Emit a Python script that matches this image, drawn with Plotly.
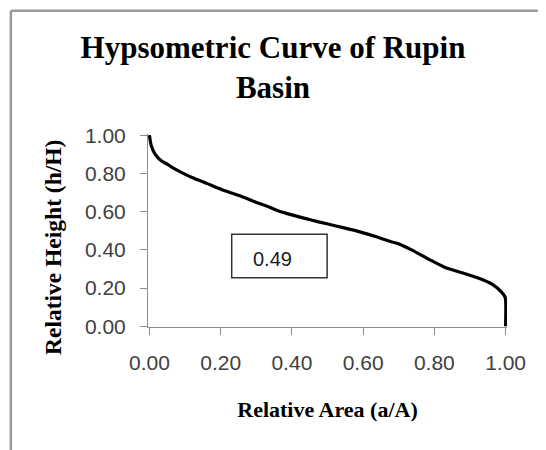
import plotly.graph_objects as go

# Relative area (a/A) and relative height (h/H)
rel_area = [0.000, 0.005, 0.016, 0.034, 0.053, 0.071, 0.095, 0.118, 0.164, 0.210,
            0.257, 0.303, 0.336, 0.359, 0.405, 0.452, 0.498, 0.544, 0.591, 0.637,
            0.670, 0.693, 0.739, 0.786, 0.832, 0.878, 0.925, 0.962, 0.990, 0.999, 1.000]
rel_height = [1.000, 0.946, 0.900, 0.865, 0.845, 0.823, 0.800, 0.780, 0.745, 0.710,
              0.680, 0.646, 0.624, 0.606, 0.580, 0.557, 0.536, 0.516, 0.494, 0.468,
              0.447, 0.435, 0.397, 0.349, 0.306, 0.280, 0.251, 0.220, 0.176, 0.150, 0.000]

tick_vals = [0.0, 0.2, 0.4, 0.6, 0.8, 1.0]
tick_text = ["0.00", "0.20", "0.40", "0.60", "0.80", "1.00"]

hypsometric_integral = "0.49"

title_text = "Hypsometric Curve of Rupin<br>Basin"
x_title = "Relative Area (a/A)"
y_title = "Relative Height (h/H)"

serif = "Liberation Serif, Times New Roman, serif"
sans = "Liberation Sans, Arial, sans-serif"

W, H = 546, 450
L, R, T, B = 140, 47, 126, 131
pw, ph = W - L - R, H - T - B

fig = go.Figure()
fig.add_trace(go.Scatter(
    x=rel_area, y=rel_height, mode="lines",
    line=dict(color="black", width=3.2, shape="spline", smoothing=0.6),
    hoverinfo="skip", showlegend=False,
))

# outer chart frame (cropped on right and bottom): top and left edges
frame = dict(color="#9a9a9a", width=2.5)
fig.add_shape(type="line", xref="paper", yref="paper",
              x0=-0.382, x1=1.2, y0=1.638, y1=1.638, line=frame)
fig.add_shape(type="line", xref="paper", yref="paper",
              x0=-0.382, x1=-0.382, y0=1.638, y1=-0.7, line=frame)

# box with hypsometric integral
fig.add_shape(type="rect", xref="x", yref="y",
              x0=0.231, x1=0.499, y0=0.254, y1=0.482,
              line=dict(color="#333333", width=1.5))
fig.add_annotation(x=0.284, y=0.352, xref="x", yref="y",
                   text=hypsometric_integral, showarrow=False,
                   xanchor="left", yanchor="middle",
                   font=dict(family=sans, size=20, color="#1a1a2a"))

# y-axis title (placed as in the reference, slightly below plot centre)
fig.add_annotation(x=(45 - L) / pw, y=(H - B - 240) / ph, xref="paper", yref="paper",
                   text=y_title, showarrow=False, textangle=-90,
                   xanchor="center", yanchor="middle",
                   font=dict(family=serif, size=23.5, color="black", weight="bold"))

fig.update_layout(
    width=W, height=H,
    paper_bgcolor="white", plot_bgcolor="white",
    margin=dict(l=L, r=R, t=T, b=B, pad=0, autoexpand=False),
    title=dict(text=title_text, x=(W / 2 - 8) / W, xanchor="center",
               y=1 - 50 / H, yanchor="top", automargin=False,
               font=dict(family=serif, size=31, color="black", weight="bold")),
)
fig.update_xaxes(
    range=[-0.004, 1.004], tickvals=tick_vals, ticktext=tick_text, automargin=False,
    showgrid=False, zeroline=False, showline=True, linecolor="#8c8c8c", linewidth=1,
    ticks="outside", ticklen=7, tickcolor="#8c8c8c", ticklabelstandoff=10,
    tickfont=dict(family=sans, size=21, color="#404040"),
    title=dict(text=x_title, standoff=28,
               font=dict(family=serif, size=22, color="black", weight="bold")),
)
fig.update_yaxes(
    range=[-0.004, 1.006], tickvals=tick_vals, ticktext=tick_text, automargin=False,
    showgrid=False, zeroline=False, showline=True, linecolor="#8c8c8c", linewidth=1,
    ticks="outside", ticklen=7, tickcolor="#8c8c8c", ticklabelstandoff=10,
    tickfont=dict(family=sans, size=21, color="#404040"),
)

fig.write_html("out.html")
